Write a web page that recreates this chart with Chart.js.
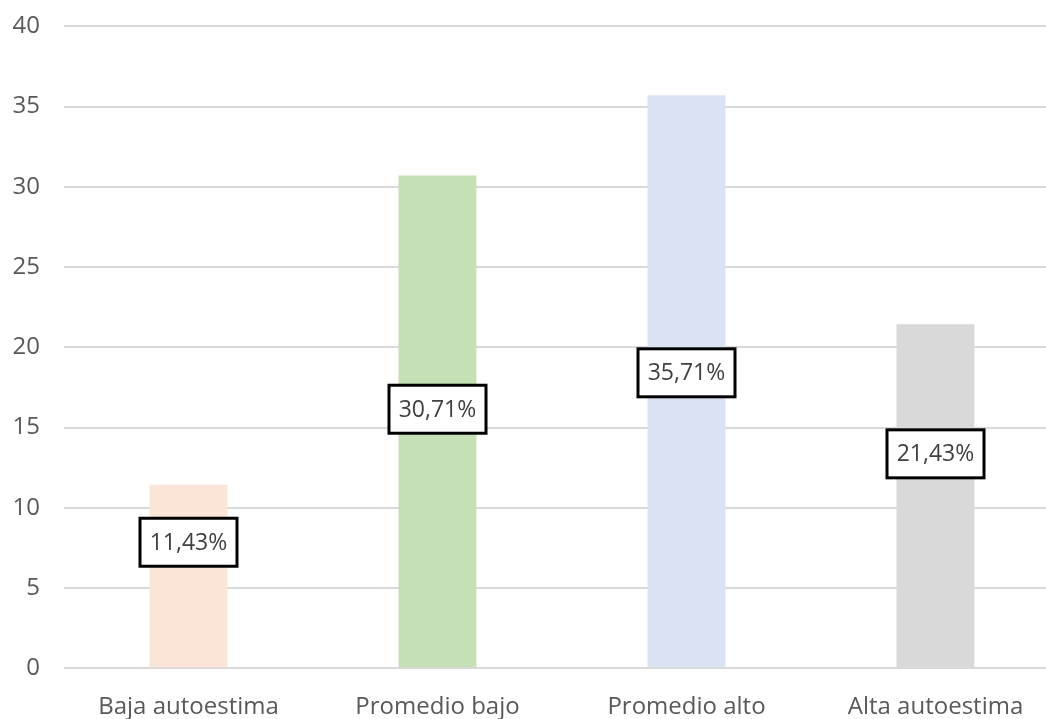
<!DOCTYPE html>
<html>
<head>
<meta charset="utf-8">
<script src="https://cdn.jsdelivr.net/npm/chart.js@4"></script>
<style>
  html, body { margin: 0; padding: 0; background: #fff; overflow: hidden; }
  #wrap { width: 1060px; height: 719px; overflow: hidden; }
  canvas { display: block; margin-top: -12px; }
</style>
</head>
<body>
<div id="wrap"><canvas id="autoestimaChart" width="1060" height="759"></canvas></div>
<script>
// categorias y porcentajes
const categories = ['Baja autoestima', 'Promedio bajo', 'Promedio alto', 'Alta autoestima'];
const percentages = [11.43, 30.71, 35.71, 21.43];
const barColors = ['#FBE5D6', '#C5E0B4', '#DAE3F3', '#D9D9D9'];
const yTicks = [0, 5, 10, 15, 20, 25, 30, 35, 40];
// altura (en unidades del eje) donde va cada etiqueta
const labelLevels = [7.85, 16.14, 18.41, 13.36];

const FONT = '"Open Sans", "DejaVu Sans", sans-serif';

// dibuja las etiquetas con recuadro negro
const boxedLabels = {
    id: 'boxedLabels',
    afterDatasetsDraw(chart) {
        const ctx = chart.ctx;
        const yScale = chart.scales.y;
        const meta = chart.getDatasetMeta(0);
        ctx.save();
        ctx.font = '23px ' + FONT;
        ctx.textAlign = 'center';
        ctx.textBaseline = 'middle';
        meta.data.forEach((bar, i) => {
            const text = percentages[i].toFixed(2).replace('.', ',') + '%';
            const cx = bar.x;
            const cy = yScale.getPixelForValue(labelLevels[i]);
            const w = 97, h = 48;
            ctx.fillStyle = '#ffffff';
            ctx.fillRect(cx - w / 2, cy - h / 2, w, h);
            ctx.lineWidth = 3;
            ctx.strokeStyle = '#000000';
            ctx.strokeRect(cx - w / 2, cy - h / 2, w, h);
            ctx.fillStyle = '#404040';
            ctx.fillText(text, cx, cy + 1);
        });
        ctx.restore();
    }
};

const ctx = document.getElementById('autoestimaChart').getContext('2d');
const chart = new Chart(ctx, {
    type: 'bar',
    data: {
        labels: categories,
        datasets: [{
            data: percentages,
            backgroundColor: barColors,
            borderWidth: 0,
            barPercentage: 0.313,
            categoryPercentage: 1
        }]
    },
    options: {
        responsive: false,
        animation: false,
        layout: { padding: { top: 0, right: 0, bottom: 0, left: 0 } },
        plugins: {
            legend: { display: false },
            tooltip: { enabled: false }
        },
        scales: {
            x: {
                grid: { display: false, drawTicks: false },
                border: { display: false },
                ticks: {
                    color: '#595959',
                    font: { family: FONT, size: 24 },
                    padding: 25,
                    maxRotation: 0
                }
            },
            y: {
                min: 0,
                max: 40,
                afterBuildTicks(scale) {
                    scale.ticks = yTicks.map(v => ({ value: v }));
                },
                afterFit(scale) { scale.width = 64; },
                grid: { color: '#D9D9D9', lineWidth: 2, drawTicks: false },
                border: { display: false },
                ticks: {
                    color: '#595959',
                    font: { family: FONT, size: 24 },
                    padding: 24
                }
            }
        }
    },
    plugins: [boxedLabels]
});
</script>
</body>
</html>
